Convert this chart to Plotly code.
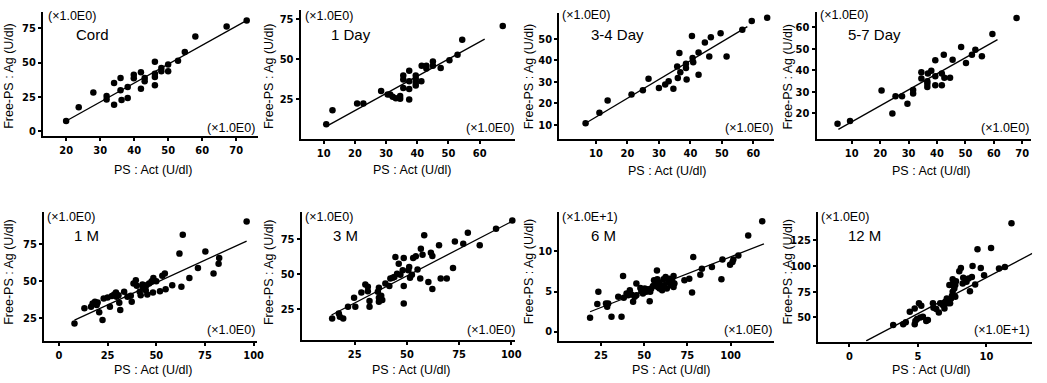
import plotly.graph_objects as go

W, H = 1047, 383

# ---------------- data ----------------
panel_names = ["Cord", "1 Day", "3-4 Day", "5-7 Day", "1 M", "3 M", "6 M", "12 M"]
y_scale_labels = ["(×1.0E0)"] * 6 + ["(×1.0E+1)", "(×1.0E0)"]
x_scale_labels = ["(×1.0E0)"] * 7 + ["(×1.0E+1)"]
x_title = "PS : Act (U/dl)"
y_title = "Free-PS : Ag (U/dl)"

cord_x = [20.0, 23.7, 28.0, 31.9, 31.9, 34.1, 34.1, 36.0, 36.0, 36.3, 38.1, 38.1, 39.9, 39.9, 42.0, 42.0,
          43.1, 43.1, 46.1, 46.1, 46.1, 46.1, 48.0, 48.0, 50.0, 50.0, 52.9, 54.9, 58.0, 67.2, 73.1]
cord_y = [7.5, 17.6, 28.2, 25.6, 23.1, 35.2, 19.3, 38.8, 29.9, 22.7, 32.3, 24.3, 41.2, 38.6, 42.9, 30.9,
          38.8, 36.4, 50.6, 41.9, 39.5, 33.5, 46.0, 43.6, 48.5, 43.6, 51.4, 57.6, 69.0, 76.2, 80.5]
cord_fit_x = [20.0, 73.0]
cord_fit_y = [7.5, 80.5]

day1_x = [10.8, 12.8, 20.7, 22.7, 28.4, 30.5, 31.3, 32.1, 33.1, 34.5, 34.5, 35.5, 35.5, 35.5, 37.4, 37.4,
          37.4, 37.4, 39.5, 39.5, 39.5, 39.5, 41.3, 41.4, 42.9, 42.9, 45.0, 45.0, 47.5, 50.3, 52.9, 54.4, 67.4]
day1_y = [9.0, 17.9, 22.1, 22.1, 29.8, 27.7, 27.7, 26.2, 25.4, 26.7, 25.0, 31.8, 37.0, 39.5, 24.6, 31.2,
          36.0, 42.6, 39.5, 37.4, 35.0, 33.3, 36.0, 45.7, 45.7, 43.9, 48.4, 45.7, 44.3, 49.1, 52.6, 61.9, 70.6]
day1_fit_x = [11.4, 61.6]
day1_fit_y = [8.4, 62.3]

day34_x = [6.7, 11.1, 13.7, 21.3, 24.9, 26.7, 30.0, 32.0, 33.1, 34.6, 35.8, 36.0, 36.5, 36.8, 38.6, 38.6,
           38.8, 40.5, 40.7, 40.9, 42.6, 42.6, 44.6, 46.0, 46.5, 49.6, 51.5, 56.5, 59.5, 64.4]
day34_y = [10.8, 15.7, 21.4, 24.2, 26.2, 31.5, 27.2, 28.8, 30.3, 26.8, 37.2, 31.8, 43.4, 34.5, 38.5, 36.5,
           31.1, 51.4, 41.1, 39.2, 43.7, 33.4, 48.3, 41.8, 50.8, 52.6, 41.8, 54.2, 58.3, 59.8]
day34_fit_x = [6.7, 58.1]
day34_fit_y = [10.8, 55.7]

day57_x = [5.0, 9.4, 20.5, 24.3, 25.4, 27.7, 29.6, 31.6, 31.6, 34.5, 34.5, 36.6, 36.6, 36.6, 36.8, 38.0,
           39.4, 39.4, 39.4, 41.7, 41.7, 42.4, 42.6, 44.6, 45.5, 48.5, 50.2, 52.3, 53.5, 55.8, 59.5, 68.0]
day57_y = [15.2, 16.5, 30.6, 20.0, 28.0, 28.0, 24.5, 29.2, 30.8, 39.1, 36.2, 34.9, 33.7, 32.3, 38.5, 39.8,
           44.6, 37.2, 33.1, 38.5, 33.1, 47.2, 36.5, 36.5, 44.9, 50.8, 43.4, 47.2, 49.5, 46.5, 56.8, 64.2]
day57_fit_x = [5.3, 61.3]
day57_fit_y = [12.6, 54.2]

m1_x = [8.0, 13.1, 16.5, 17.3, 18.5, 19.4, 19.9, 20.7, 22.4, 23.0, 25.0, 26.2, 27.2, 28.4, 29.3, 29.6,
        30.6, 31.0, 31.5, 33.5, 35.2, 36.9, 37.4, 38.3, 39.5, 40.0, 41.5, 42.0, 42.9, 43.2, 44.6, 44.9,
        45.4, 46.3, 47.6, 48.5, 48.3, 50.0, 51.9, 53.1, 54.4, 54.8, 58.2, 61.9, 62.9, 63.6, 67.0, 71.4,
        75.2, 79.4, 82.0, 82.3, 96.4]
m1_y = [21.0, 31.3, 32.4, 34.6, 35.8, 33.5, 35.3, 28.6, 23.4, 38.0, 38.7, 32.4, 39.6, 40.7, 42.0, 39.1,
        40.2, 35.1, 30.2, 42.5, 39.1, 39.8, 35.8, 48.1, 50.3, 46.5, 42.5, 40.2, 47.4, 45.2, 43.6, 47.0,
        40.7, 48.1, 49.7, 51.9, 42.0, 49.7, 42.9, 53.3, 54.8, 44.3, 47.0, 68.3, 45.9, 81.1, 51.9, 58.6,
        69.8, 54.8, 61.5, 65.4, 90.0]
m1_fit_x = [8.0, 96.4]
m1_fit_y = [23.4, 76.8]

m3_x = [14.2, 17.4, 17.9, 19.5, 21.8, 24.7, 25.3, 28.2, 30.1, 31.3, 31.3, 32.1, 32.1, 36.1, 36.6, 36.6,
        36.6, 37.7, 38.2, 39.7, 41.6, 42.1, 43.2, 44.0, 44.5, 45.3, 46.1, 46.9, 48.0, 48.5, 48.5, 48.5,
        50.7, 51.1, 51.5, 52.4, 53.0, 54.3, 55.1, 56.4, 56.7, 57.5, 58.3, 60.3, 61.5, 62.2, 62.2, 65.4,
        66.2, 69.1, 72.1, 73.0, 77.0, 79.2, 84.9, 92.7, 100.5]
m3_y = [18.4, 21.9, 19.6, 18.4, 26.7, 33.0, 26.7, 36.8, 42.5, 40.8, 37.7, 30.7, 26.7, 37.3, 40.1, 33.0,
        30.2, 34.4, 31.4, 43.2, 41.5, 46.7, 47.2, 47.9, 62.0, 50.2, 57.3, 49.5, 52.6, 61.3, 41.5, 29.0,
        52.6, 55.0, 47.2, 49.5, 61.3, 62.5, 53.1, 46.7, 67.9, 63.7, 77.4, 44.3, 65.1, 62.7, 39.2, 70.3,
        46.7, 46.7, 54.2, 73.1, 71.5, 79.2, 70.3, 82.1, 88.0]
m3_fit_x = [13.9, 100.5]
m3_fit_y = [20.8, 87.5]

m6_x = [18.7, 23.5, 22.9, 27.9, 28.6, 29.2, 31.1, 35.0, 36.9, 37.8, 38.2, 39.8, 40.7, 41.7, 42.6, 43.6,
        44.5, 45.5, 45.5, 47.8, 48.4, 49.3, 50.3, 51.2, 52.2, 53.2, 53.5, 54.1, 55.1, 55.7, 56.6, 57.0,
        57.4, 57.6, 57.9, 58.5, 58.9, 59.9, 60.4, 61.2, 61.8, 62.4, 63.1, 64.1, 64.7, 65.6, 66.2, 67.0,
        67.5, 67.0, 73.3, 76.1, 77.7, 78.4, 82.5, 83.4, 89.2, 94.7, 95.3, 99.7, 101.1, 101.6, 104.5,
        110.2, 118.3]
m6_y = [1.74, 4.96, 3.43, 3.51, 3.10, 3.51, 1.86, 4.34, 1.86, 6.94, 4.21, 4.75, 4.55, 5.17, 4.63, 3.72,
        4.34, 5.99, 4.55, 5.45, 5.04, 4.75, 5.37, 4.96, 5.29, 3.80, 4.96, 5.37, 5.70, 6.40, 6.12, 5.87,
        7.64, 6.53, 5.58, 6.12, 5.37, 5.79, 5.17, 6.53, 5.79, 6.82, 5.37, 6.20, 6.61, 5.79, 6.40, 6.94,
        5.99, 5.58, 6.40, 6.61, 4.88, 9.30, 7.11, 7.85, 8.06, 6.53, 9.01, 8.35, 8.68, 9.01, 9.50,
        11.98, 13.76]
m6_fit_x = [18.7, 119.3]
m6_fit_y = [2.48, 10.95]

m12_x = [3.20, 3.93, 4.12, 4.41, 4.77, 4.77, 4.82, 4.94, 5.08, 5.18, 5.25, 5.37, 5.61, 5.73, 6.10, 6.14,
         6.34, 6.53, 6.63, 6.82, 6.94, 7.01, 7.11, 7.18, 7.25, 7.30, 7.35, 7.42, 7.49, 7.49, 7.54, 7.54,
         7.59, 7.66, 7.73, 7.73, 7.78, 8.02, 8.14, 8.27, 8.31, 8.55, 8.70, 8.80, 8.94, 8.99, 9.18, 9.35,
         9.59, 9.83, 10.34, 10.92, 11.35, 11.83, 13.45]
m12_y = [42.6, 43.2, 45.2, 55.5, 58.7, 43.2, 46.4, 48.4, 63.6, 49.7, 61.3, 50.6, 46.4, 47.4, 63.6, 59.4,
         58.1, 54.8, 63.6, 62.0, 58.7, 65.2, 68.4, 63.6, 65.8, 81.4, 63.6, 68.4, 71.0, 81.4, 87.2, 74.9,
         83.9, 78.1, 81.4, 70.0, 85.2, 94.9, 98.2, 83.0, 88.5, 84.6, 87.8, 75.5, 89.4, 100.1, 82.0, 116.3,
         98.2, 91.1, 117.6, 97.5, 99.1, 141.8, 113.0]
m12_fit_x = [1.23, 13.45]
m12_fit_y = [27.0, 113.0]

x_tickvals = [[20, 30, 40, 50, 60, 70], [10, 20, 30, 40, 50, 60], [10, 20, 30, 40, 50, 60],
              [10, 20, 30, 40, 50, 60, 70], [0, 25, 50, 75, 100], [25, 50, 75, 100],
              [25, 50, 75, 100], [0, 5, 10]]
y_tickvals = [[0, 25, 50, 75], [25, 50, 75], [10, 20, 30, 40, 50], [20, 30, 40, 50, 60],
              [25, 50, 75], [25, 50, 75], [0, 5, 10], [50, 75, 100, 125]]

series = [(cord_x, cord_y, cord_fit_x, cord_fit_y), (day1_x, day1_y, day1_fit_x, day1_fit_y),
          (day34_x, day34_y, day34_fit_x, day34_fit_y), (day57_x, day57_y, day57_fit_x, day57_fit_y),
          (m1_x, m1_y, m1_fit_x, m1_fit_y), (m3_x, m3_y, m3_fit_x, m3_fit_y),
          (m6_x, m6_y, m6_fit_x, m6_fit_y), (m12_x, m12_y, m12_fit_x, m12_fit_y)]

# ---------------- layout (pixel boxes and ranges) ----------------
boxes = [(43.3, 260, 12, 137), (302.7, 518.7, 10, 139.3), (563, 779, 12.7, 139.3), (822, 1037.7, 11.7, 140),
         (44.3, 258.3, 213.3, 342.7), (303.7, 518.7, 212.7, 341.7), (563, 779, 213.3, 342.7),
         (823.7, 1039, 213.3, 343.3)]
x_ranges = [(13.2, 76.5), (2.6, 71.4), (-1.67, 66.5), (-2.4, 73), (-7.65, 101.5), (-0.4, 101.9),
            (0.86, 125), (-2.27, 13.33)]
y_ranges = [(-3.6, 86.8), (0.1, 80.6), (3.7, 62.2), (8, 67.2), (9.3, 96.3), (3.1, 94.3),
            (-1.16, 14.9), (26.4, 152.5)]
# annotation anchor pixels
top_lbl = [(46.7, 16), (304.7, 16), (564, 15), (823.3, 15), (45.7, 218.3), (304.7, 218.3), (564, 218.3), (824.3, 218.3)]
name_lbl = [(74, 35), (331.3, 34.3), (593, 35), (851.7, 35), (72.3, 236.7), (333, 236.7), (593.3, 236.7), (851.7, 236.7)]
br_lbl = [(258.3, 128.3), (519.3, 128.3), (780, 128.3), (1037.7, 128.3), (258.3, 331.7), (520.3, 331.7), (779, 331.7), (1039.3, 331.7)]
xt_lbl = [(155, 171), (415.3, 170.7), (672.3, 171.7), (937.7, 171.7), (155, 371.7), (414.7, 371.7), (675.7, 371.7), (937.7, 371.7)]
yt_lbl = [(8.3, 76), (270.3, 76), (532.3, 77), (793.3, 77), (8.3, 273), (270.3, 273), (532.3, 273), (793.3, 273)]


def px(x):
    return x / W


def py(y):
    return 1 - y / H


TICK_FONT = dict(family="Liberation Sans Narrow, DejaVu Sans Condensed, Arial Narrow, sans-serif",
                 size=11, color="black", weight="bold")
TXT_FONT = dict(family="Liberation Sans, Arial, sans-serif", size=12.5, color="black")
NAME_FONT = dict(family="Liberation Sans, Arial, sans-serif", size=15, color="black")

fig = go.Figure()
layout = dict(width=W, height=H, margin=dict(l=0, r=0, t=0, b=0), paper_bgcolor="white",
              plot_bgcolor="white", showlegend=False, annotations=[])

for i in range(8):
    n = i + 1
    xs, ys, fx, fy = series[i]
    xa = "x" if n == 1 else f"x{n}"
    ya = "y" if n == 1 else f"y{n}"
    fig.add_trace(go.Scatter(x=xs, y=ys, mode="markers", xaxis=xa, yaxis=ya,
                             marker=dict(color="black", size=6.5, line=dict(width=0)),
                             cliponaxis=False))
    fig.add_trace(go.Scatter(x=fx, y=fy, mode="lines", xaxis=xa, yaxis=ya,
                             line=dict(color="black", width=1.3)))
    l, r, t, b = boxes[i]
    common = dict(showgrid=False, zeroline=False, showline=True, linecolor="black", linewidth=2,
                  ticks="outside", ticklen=3, tickwidth=1.5, tickcolor="black", tickfont=TICK_FONT)
    layout["xaxis" if n == 1 else f"xaxis{n}"] = dict(
        domain=[px(l), px(r)], anchor=ya, range=list(x_ranges[i]), tickvals=x_tickvals[i], **common)
    layout["yaxis" if n == 1 else f"yaxis{n}"] = dict(
        domain=[py(b), py(t)], anchor=xa, range=list(y_ranges[i]), tickvals=y_tickvals[i], **common)

    anns = layout["annotations"]
    anns.append(dict(xref="paper", yref="paper", x=px(top_lbl[i][0]), y=py(top_lbl[i][1]),
                     xanchor="left", yanchor="middle", text=y_scale_labels[i], showarrow=False,
                     font=TXT_FONT))
    anns.append(dict(xref="paper", yref="paper", x=px(name_lbl[i][0]), y=py(name_lbl[i][1]),
                     xanchor="left", yanchor="middle", text=panel_names[i], showarrow=False,
                     font=NAME_FONT))
    anns.append(dict(xref="paper", yref="paper", x=px(br_lbl[i][0]), y=py(br_lbl[i][1]),
                     xanchor="right", yanchor="middle", text=x_scale_labels[i], showarrow=False,
                     font=TXT_FONT))
    anns.append(dict(xref="paper", yref="paper", x=px(xt_lbl[i][0]), y=py(xt_lbl[i][1]),
                     xanchor="center", yanchor="middle", text=x_title, showarrow=False, font=TXT_FONT))
    anns.append(dict(xref="paper", yref="paper", x=px(yt_lbl[i][0]), y=py(yt_lbl[i][1]),
                     xanchor="center", yanchor="middle", text=y_title, showarrow=False, textangle=-90,
                     font=TXT_FONT))

fig.update_layout(**layout)
fig.write_html("out.html")
